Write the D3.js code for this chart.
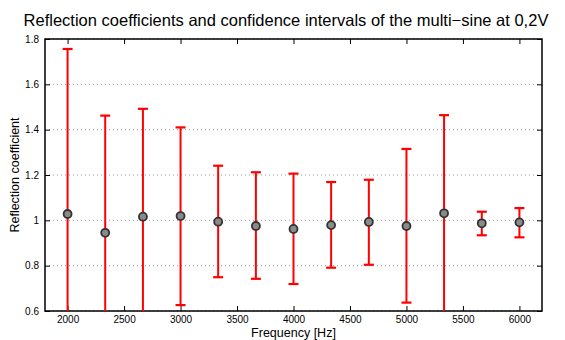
<!DOCTYPE html>
<html>
<head>
<meta charset="utf-8">
<script src="https://cdn.jsdelivr.net/npm/d3@7"></script>
<style>
body { margin: 0; background: #fff; }
text { font-family: "Liberation Sans", Arial, sans-serif; }
</style>
</head>
<body>
<script>
var w = 565;
var h = 340;

// frequencies of the multi-sine components [Hz]
var freqs = [2000, 2333, 2667, 3000, 3333, 3667, 4000, 4333, 4667, 5000, 5333, 5667, 6000];
// reflection coefficient estimate
var coef = [1.028, 0.945, 1.016, 1.019, 0.994, 0.975, 0.962, 0.979, 0.993, 0.975, 1.031, 0.987, 0.991];
// confidence interval bounds
var upper = [1.756, 1.462, 1.492, 1.41, 1.241, 1.212, 1.206, 1.169, 1.179, 1.315, 1.464, 1.038, 1.054];
var lower = [0.30, 0.43, 0.54, 0.626, 0.749, 0.742, 0.719, 0.791, 0.804, 0.637, 0.58, 0.934, 0.925];

var xTicks = [2000, 2500, 3000, 3500, 4000, 4500, 5000, 5500, 6000];
var yTicks = [0.6, 0.8, 1, 1.2, 1.4, 1.6, 1.8];

var mLeft = 45, mRight = 542, mTop = 39, mBottom = 311;

var x = d3.scaleLinear().domain([1800, 6200]).range([mLeft, mRight]);
var y = d3.scaleLinear().domain([0.6, 1.8]).range([mBottom, mTop]);

var svg = d3.select("body")
    .append("svg")
    .attr("width", w)
    .attr("height", h);

svg.append("defs").append("clipPath")
    .attr("id", "plotclip")
    .append("rect")
    .attr("x", mLeft)
    .attr("y", mTop)
    .attr("width", mRight - mLeft)
    .attr("height", mBottom - mTop);

// horizontal dotted grid
svg.append("g")
    .selectAll("line")
    .data(yTicks)
    .enter()
    .append("line")
    .attr("x1", mLeft)
    .attr("x2", mRight)
    .attr("y1", function (d) { return y(d); })
    .attr("y2", function (d) { return y(d); })
    .attr("stroke", "#999")
    .attr("stroke-width", 1)
    .attr("stroke-dasharray", "1,3");

// axes with ticks pointing inwards
var axisB = svg.append("g")
    .attr("transform", "translate(0," + mBottom + ")")
    .call(d3.axisBottom(x).tickValues(xTicks).tickSizeInner(-5).tickSizeOuter(0).tickPadding(5).tickFormat(d3.format("d")));
var axisT = svg.append("g")
    .attr("transform", "translate(0," + mTop + ")")
    .call(d3.axisTop(x).tickValues(xTicks).tickSizeInner(-5).tickSizeOuter(0).tickFormat(""));
var axisL = svg.append("g")
    .attr("transform", "translate(" + mLeft + ",0)")
    .call(d3.axisLeft(y).tickValues(yTicks).tickSizeInner(-5).tickSizeOuter(0).tickPadding(6).tickFormat(function (d) { return String(+d.toFixed(1)); }));
var axisR = svg.append("g")
    .attr("transform", "translate(" + mRight + ",0)")
    .call(d3.axisRight(y).tickValues(yTicks).tickSizeInner(-5).tickSizeOuter(0).tickFormat(""));

[axisB, axisT, axisL, axisR].forEach(function (a) {
    a.select(".domain").remove();
    a.selectAll("line").attr("stroke", "#000");
    a.selectAll("text").attr("font-size", 10).attr("fill", "#000")
        .style("font-family", "'Liberation Sans', Arial, sans-serif");
});

// box
svg.append("rect")
    .attr("x", mLeft)
    .attr("y", mTop)
    .attr("width", mRight - mLeft)
    .attr("height", mBottom - mTop)
    .attr("fill", "none")
    .attr("stroke", "#000")
    .attr("stroke-width", 1.5);

var data = freqs.map(function (f, i) {
    return { f: f, c: coef[i], lo: lower[i], hi: upper[i] };
});

var bars = svg.append("g").attr("clip-path", "url(#plotclip)");

bars.selectAll(".stem")
    .data(data)
    .enter()
    .append("line")
    .attr("x1", function (d) { return x(d.f); })
    .attr("x2", function (d) { return x(d.f); })
    .attr("y1", function (d) { return y(d.lo); })
    .attr("y2", function (d) { return y(d.hi); })
    .attr("stroke", "#ff0000")
    .attr("stroke-width", 2);

bars.selectAll(".capHi")
    .data(data)
    .enter()
    .append("line")
    .attr("x1", function (d) { return x(d.f) - 5; })
    .attr("x2", function (d) { return x(d.f) + 5; })
    .attr("y1", function (d) { return y(d.hi); })
    .attr("y2", function (d) { return y(d.hi); })
    .attr("stroke", "#ff0000")
    .attr("stroke-width", 2.2);

bars.selectAll(".capLo")
    .data(data)
    .enter()
    .append("line")
    .attr("x1", function (d) { return x(d.f) - 5; })
    .attr("x2", function (d) { return x(d.f) + 5; })
    .attr("y1", function (d) { return y(d.lo); })
    .attr("y2", function (d) { return y(d.lo); })
    .attr("stroke", "#ff0000")
    .attr("stroke-width", 2.2);

svg.append("g")
    .selectAll("circle")
    .data(data)
    .enter()
    .append("circle")
    .attr("cx", function (d) { return x(d.f); })
    .attr("cy", function (d) { return y(d.c); })
    .attr("r", 4)
    .attr("fill", "#8a8a8a")
    .attr("stroke", "#333")
    .attr("stroke-width", 1.8);

// title and labels
svg.append("text")
    .attr("x", 286)
    .attr("y", 26)
    .attr("text-anchor", "middle")
    .attr("font-size", 16.5)
    .text("Reflection coefficients and confidence intervals of the multi\u2212sine at 0,2V");

svg.append("text")
    .attr("x", (mLeft + mRight) / 2)
    .attr("y", 337)
    .attr("text-anchor", "middle")
    .attr("font-size", 12.5)
    .text("Frequency [Hz]");

svg.append("text")
    .attr("transform", "translate(19," + ((mTop + mBottom) / 2) + ") rotate(-90)")
    .attr("text-anchor", "middle")
    .attr("font-size", 12.5)
    .text("Reflection coefficient");
</script>
</body>
</html>
